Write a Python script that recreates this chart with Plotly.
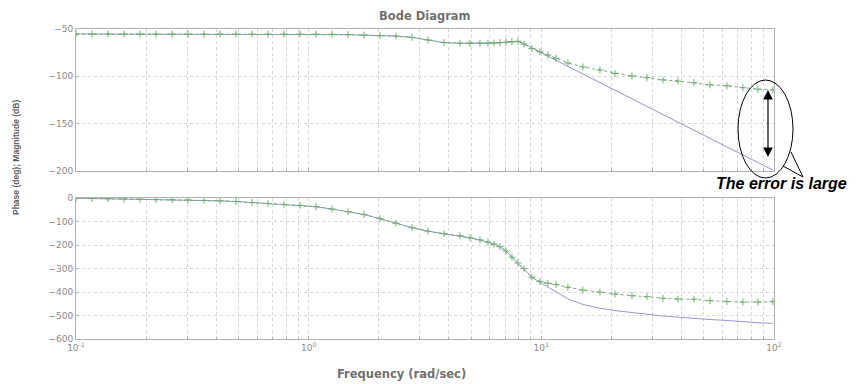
import plotly.graph_objects as go

# ---------------- data ----------------
freq = [0.1, 0.1172, 0.1373, 0.1608, 0.1884, 0.2207, 0.2586, 0.3029, 0.3549, 0.4158,
        0.4871, 0.5707, 0.6686, 0.7833, 0.9177, 1.075, 1.26, 1.476, 1.729, 2.026,
        2.373, 2.78, 3.257, 3.815, 4.47, 4.935, 5.448, 5.896, 6.256, 6.639,
        7.045, 7.475, 7.932, 8.42, 9.11, 9.86, 10.67, 11.56, 13.01, 15.09,
        17.86, 20.72, 24.52, 28.43, 33.31, 38.64, 45.27, 53.04, 62.75, 73.5,
        85.3, 98.9]

mag_model = [-55.3, -55.3, -55.3, -55.3, -55.3, -55.3, -55.3, -55.3, -55.3, -55.3,
             -55.3, -55.3, -55.3, -55.3, -55.3, -55.3, -55.5, -56.0, -56.5, -57.0,
             -57.5, -58.8, -61.6, -64.4, -65.0, -65.1, -65.0, -65.0, -64.8, -64.5,
             -64.0, -63.5, -63.0, -65.5, -70.0, -74.0, -78.5, -83.0, -89.5, -97.5,
             -106.5, -114.5, -123.5, -131.5, -140.0, -148.0, -157.0, -165.5, -174.5, -183.0,
             -191.0, -199.0]

mag_meas = [-55.3, -55.3, -55.3, -55.3, -55.3, -55.3, -55.3, -55.3, -55.3, -55.3,
            -55.3, -55.3, -55.3, -55.3, -55.3, -55.3, -55.5, -56.0, -56.5, -57.0,
            -57.5, -58.8, -61.6, -64.4, -65.0, -65.1, -65.0, -65.0, -64.8, -64.5,
            -64.0, -63.5, -63.0, -66.0, -70.5, -74.0, -77.5, -81.0, -86.0, -90.0,
            -93.3, -97.0, -99.6, -101.4, -103.8, -105.0, -106.7, -109.0, -110.0, -112.0,
            -113.6, -114.3]

phase_model = [-1, -2, -3, -4, -5, -6, -7, -8, -10, -12,
               -15, -19, -23, -27, -31, -37, -47, -58, -70, -88,
               -107, -126, -141, -152, -160, -169, -178, -187, -196, -207,
               -225, -251, -276, -300, -336, -358, -378, -400, -428, -452,
               -468, -478, -487, -495, -501, -506, -512, -516, -520, -526,
               -530, -532]

phase_meas = [-1, -2, -3, -4, -5, -6, -7, -8, -10, -12,
              -15, -19, -23, -27, -31, -37, -47, -58, -70, -88,
              -107, -126, -141, -152, -160, -169, -178, -187, -196, -207,
              -225, -251, -276, -300, -336, -355, -362, -367, -379, -391,
              -400, -408, -415, -419, -426, -429, -430, -436, -440, -442,
              -442, -440]

mag_ticks = [-50, -100, -150, -200]
phase_ticks = [0, -100, -200, -300, -400, -500, -600]
freq_ticks = [0.1, 1, 10, 100]
freq_tick_text = ["10<sup>-1</sup>", "10<sup>0</sup>", "10<sup>1</sup>", "10<sup>2</sup>"]

# ---------------- figure ----------------
W, H = 856, 384
OFF = 8  # page body margin in the browser


def px(x):
    return (x - OFF) / W


def py(y):
    return 1 - (y - OFF) / H


BLUE = "#9494d4"
GREEN = "#6fae6f"
GRID = "#d6d6d6"
FRAME = "#b0b0b0"
TICKF = dict(family="DejaVu Sans", size=9, color="#8a8a8a")

fig = go.Figure()
fig.add_trace(go.Scatter(x=freq, y=mag_model, mode="lines",
                         line=dict(color=BLUE, width=1), xaxis="x", yaxis="y",
                         showlegend=False))
fig.add_trace(go.Scatter(x=freq, y=mag_meas, mode="lines+markers",
                         line=dict(color=GREEN, width=1, dash="dot"),
                         marker=dict(symbol="cross-thin", size=5,
                                     line=dict(color=GREEN, width=1)),
                         xaxis="x", yaxis="y", showlegend=False))
fig.add_trace(go.Scatter(x=freq, y=phase_model, mode="lines",
                         line=dict(color=BLUE, width=1), xaxis="x2", yaxis="y2",
                         showlegend=False))
fig.add_trace(go.Scatter(x=freq, y=phase_meas, mode="lines+markers",
                         line=dict(color=GREEN, width=1, dash="dot"),
                         marker=dict(symbol="cross-thin", size=5,
                                     line=dict(color=GREEN, width=1)),
                         xaxis="x2", yaxis="y2", showlegend=False))

minor_vals = [k * 10 ** d for d in (-1, 0, 1) for k in range(2, 10)]

xcommon = dict(type="log", range=[-1, 2], domain=[px(76), px(774)], automargin=False,
               showline=True, mirror=True, linecolor=FRAME, linewidth=1,
               showgrid=True, gridcolor=GRID, griddash="dot", gridwidth=1,
               ticks="inside", ticklen=3, tickcolor=FRAME,
               tickvals=freq_ticks, zeroline=False,
               minor=dict(tickvals=minor_vals, showgrid=True, gridcolor=GRID,
                          griddash="dot", ticks="inside", ticklen=2, tickcolor=FRAME))
ycommon = dict(showline=True, mirror=True, linecolor=FRAME, linewidth=1, automargin=False,
               showgrid=True, gridcolor=GRID, griddash="dot", gridwidth=1,
               ticks="inside", ticklen=3, tickcolor=FRAME, zeroline=False,
               tickfont=TICKF)

fig.update_layout(
    width=W, height=H,
    margin=dict(l=0, r=0, t=0, b=0, autoexpand=False),
    paper_bgcolor="white", plot_bgcolor="white",
    xaxis=dict(**xcommon, anchor="y", showticklabels=False),
    yaxis=dict(**ycommon, domain=[py(171), py(29)], range=[-200, -50],
               tickvals=mag_ticks, anchor="x"),
    xaxis2=dict(**xcommon, anchor="y2", ticktext=freq_tick_text, tickfont=TICKF),
    yaxis2=dict(**ycommon, domain=[py(339.3), py(198)], range=[-600, 0],
                tickvals=phase_ticks, anchor="x2"),
)

fig.add_annotation(text="<b>Bode Diagram</b>", x=px(425), y=py(16), xref="paper",
                   yref="paper", xanchor="center", yanchor="middle", showarrow=False,
                   font=dict(family="DejaVu Sans", size=11.5, color="#707070"))
fig.add_annotation(text="<b>Frequency (rad/sec)</b>", x=px(401), y=py(374), xref="paper",
                   yref="paper", xanchor="center", yanchor="middle", showarrow=False,
                   font=dict(family="DejaVu Sans", size=11.5, color="#707070"))
fig.add_annotation(text="<b>Phase (deg); Magnitude (dB)</b>", x=px(16), y=py(158),
                   xref="paper", yref="paper", xanchor="center", yanchor="middle",
                   showarrow=False, textangle=-90,
                   font=dict(family="Liberation Sans, Arial", size=8.5, color="#606060"))

# speech-bubble ellipse annotation
fig.add_shape(type="circle", xref="paper", yref="paper",
              x0=px(738), x1=px(793), y0=py(178), y1=py(80),
              line=dict(color="black", width=1))
fig.add_shape(type="path", xref="paper", yref="paper",
              path=f"M {px(791)} {py(152)} L {px(803)} {py(177)} L {px(783)} {py(166)}",
              line=dict(color="black", width=1))
fig.add_annotation(x=px(768), y=py(90), xref="paper", yref="paper",
                   ax=0, ay=77, axref="pixel", ayref="pixel", text=" ",
                   showarrow=True, arrowhead=2, startarrowhead=2, arrowside="end+start",
                   arrowsize=1.6, startarrowsize=1.6, arrowwidth=1.2, arrowcolor="black")
fig.add_annotation(text="<b><i>The error is large</i></b>", x=px(781), y=py(184),
                   xref="paper", yref="paper", xanchor="center", yanchor="middle",
                   showarrow=False,
                   font=dict(family="Liberation Sans, Arial", size=16, color="black"))

fig.write_html("out.html")
